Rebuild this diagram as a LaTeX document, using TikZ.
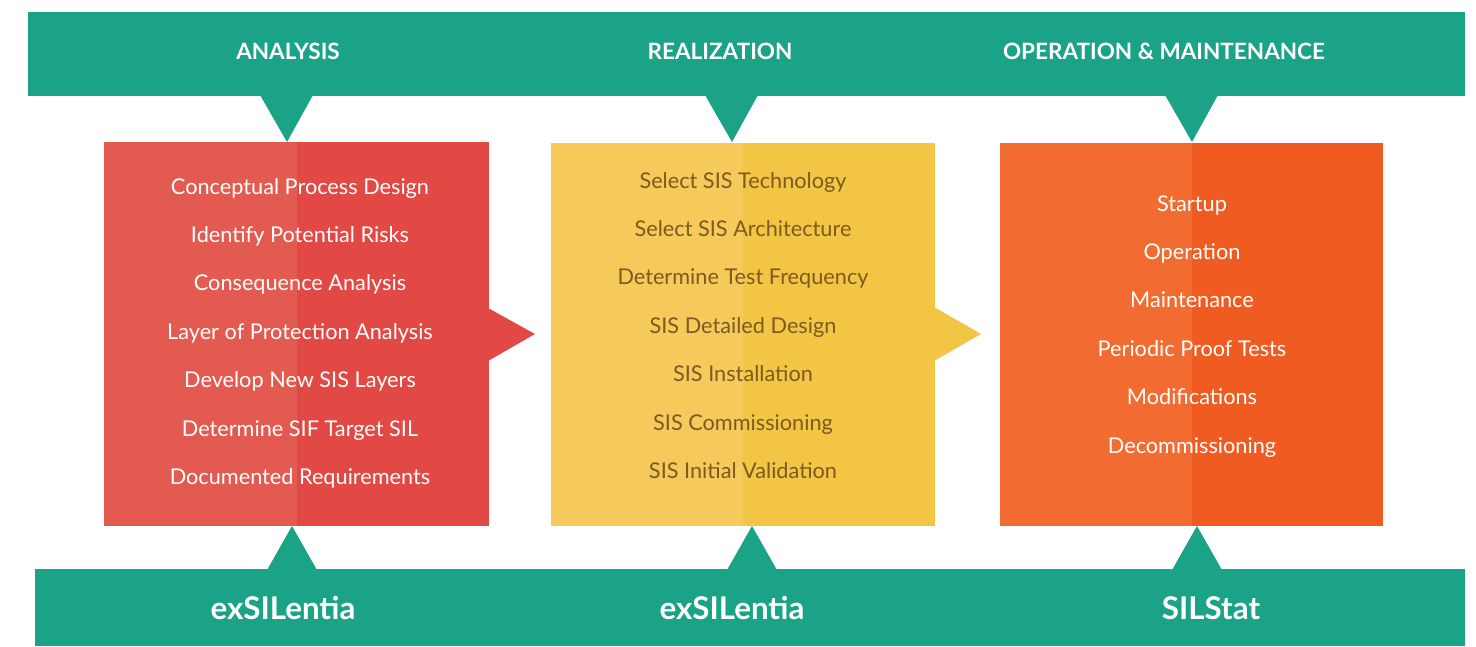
\documentclass[tikz,border=0pt]{standalone}
\usepackage{fontspec}
\setmainfont{Lato}
\definecolor{teal1}{HTML}{1AA386}
\definecolor{redL}{HTML}{E35B50}
\definecolor{redR}{HTML}{E24844}
\definecolor{yelL}{HTML}{F5C95A}
\definecolor{yelR}{HTML}{F3C544}
\definecolor{oraL}{HTML}{F26B30}
\definecolor{oraR}{HTML}{F05B22}
\definecolor{brownT}{HTML}{7B5B1F}
\tikzset{
  itemtxt/.style={anchor=base, inner sep=0pt, font=\fontsize{21.7}{26}\selectfont},
  headtxt/.style={anchor=base, inner sep=0pt, text=white, font=\bfseries\fontsize{22.5}{27}\selectfont},
  tooltxt/.style={anchor=base, inner sep=0pt, text=white, font=\bfseries\fontsize{31.3}{37}\selectfont},
}
\begin{document}
\begin{tikzpicture}[x=1pt,y=-1pt]
\useasboundingbox (0,0) rectangle (1476,646);
% top bar
\fill[teal1] (28,12) rectangle (1465,96);
\fill[teal1] (260,95) -- (287,142) -- (313,95) -- cycle;
\fill[teal1] (705,95) -- (732,142) -- (758,95) -- cycle;
\fill[teal1] (1165,95) -- (1192,142) -- (1218,95) -- cycle;
% bottom bar
\fill[teal1] (35,569) rectangle (1465,646);
\fill[teal1] (267,570) -- (292,526) -- (317,570) -- cycle;
\fill[teal1] (727,570) -- (752,526) -- (777,570) -- cycle;
\fill[teal1] (1172,570) -- (1197,526) -- (1222,570) -- cycle;
% red box
\fill[redL] (104,142) rectangle (297,526);
\fill[redR] (297,142) rectangle (489,526);
\fill[redR] (488,308) -- (535,334) -- (488,361) -- cycle;
% yellow box
\fill[yelL] (551,143) rectangle (743,526);
\fill[yelR] (743,143) rectangle (935,526);
\fill[yelR] (934,307) -- (981,334) -- (934,361) -- cycle;
% orange box
\fill[oraL] (1000,143) rectangle (1192,526);
\fill[oraR] (1192,143) rectangle (1383,526);
% headers
\node[headtxt] (h1) at (288,59) {ANALYSIS};
\node[headtxt] (h2) at (720,59) {REALIZATION};
\node[headtxt] (h3) at (1164,59) {OPERATION \& MAINTENANCE};
% tools
\node[tooltxt] (t1) at (283,619) {exSILentia};
\node[tooltxt] (t2) at (732,619) {exSILentia};
\node[tooltxt] (t3) at (1211,619) {SILStat};
% analysis items
\foreach \txt [count=\i] in {Conceptual Process Design, Identify Potential Risks, Consequence Analysis, Layer of Protection Analysis, Develop New SIS Layers, Determine SIF Target SIL, Documented Requirements}
  \node[itemtxt, text=white] (a\i) at (300, 194+48.4*\i-48.4) {\txt};
% realization items
\foreach \txt [count=\i] in {Select SIS Technology, Select SIS Architecture, Determine Test Frequency, SIS Detailed Design, SIS Installation, SIS Commissioning, SIS Initial Validation}
  \node[itemtxt, text=brownT] (r\i) at (743, 188+48.4*\i-48.4) {\txt};
% operation items
\foreach \txt [count=\i] in {Startup, Operation, Maintenance, Periodic Proof Tests, Modifications, Decommissioning}
  \node[itemtxt, text=white] (o\i) at (1192, 211+48.4*\i-48.4) {\txt};
\end{tikzpicture}
\end{document}
